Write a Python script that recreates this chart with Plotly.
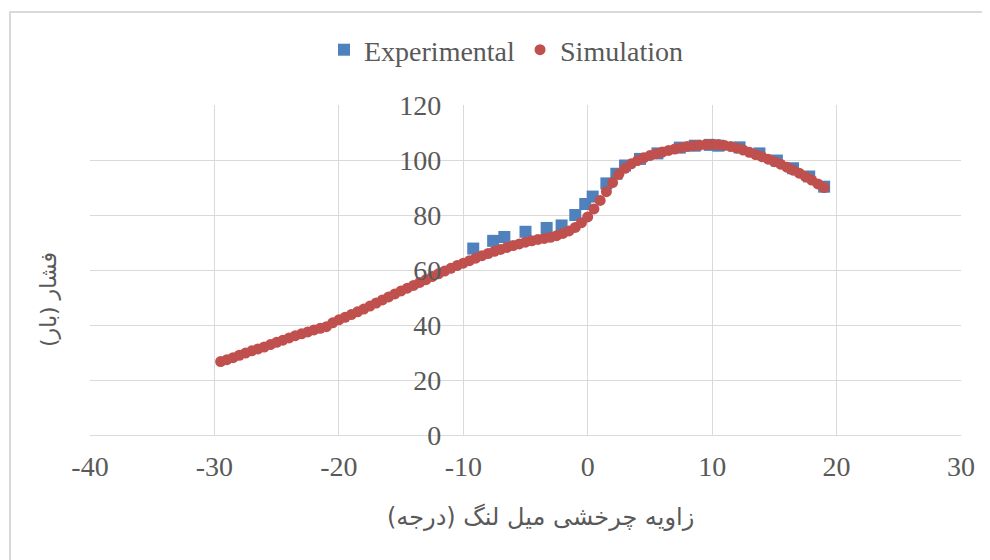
import plotly.graph_objects as go

# Experimental data (blue squares)
exp_angle = [-9.2, -7.6, -6.7, -5.0, -3.3, -2.1, -1.0, -0.2, 0.4, 1.5, 2.3, 3.0, 4.2,
             5.6, 7.4, 8.6, 9.8, 10.5, 12.2, 13.8, 15.2, 16.5, 17.8, 19.0]
exp_pressure = [67.8, 70.6, 72.0, 73.9, 75.3, 76.2, 80.0, 84.0, 86.7, 91.5, 95.0, 98.0, 100.4,
                102.4, 104.5, 105.2, 105.5, 105.2, 104.6, 102.4, 99.8, 97.0, 94.0, 90.3]

# Simulation data (red dots)
sim_angle = [-29.5, -29.0, -28.5, -28.0, -27.5, -27.0, -26.5, -26.0, -25.5, -25.0,
             -24.5, -24.0, -23.5, -23.0, -22.5, -22.0, -21.5, -21.0, -20.5, -20.0,
             -19.5, -19.0, -18.5, -18.0, -17.5, -17.0, -16.5, -16.0, -15.5, -15.0,
             -14.5, -14.0, -13.5, -13.0, -12.5, -12.0, -11.5, -11.0, -10.5, -10.0,
             -9.5, -9.0, -8.5, -8.0, -7.5, -7.0, -6.5, -6.0, -5.5, -5.0,
             -4.5, -4.0, -3.5, -3.0, -2.5, -2.0, -1.5, -1.0, -0.5, 0.0,
             0.5, 1.0, 1.5, 2.0, 2.5, 3.0, 3.5, 4.0, 4.5, 5.0,
             5.5, 6.0, 6.5, 7.0, 7.5, 8.0, 8.5, 9.0, 9.5, 10.0,
             10.5, 11.0, 11.5, 12.0, 12.5, 13.0, 13.5, 14.0, 14.5, 15.0,
             15.5, 16.0, 16.5, 17.0, 17.5, 18.0, 18.5, 19.0]
sim_pressure = [26.7, 27.4, 28.1, 29.0, 29.8, 30.6, 31.3, 32.0, 32.9, 33.7,
                34.5, 35.3, 36.1, 36.8, 37.5, 38.2, 38.8, 39.4, 40.8, 41.9,
                42.8, 43.8, 44.8, 45.8, 46.9, 48.0, 49.1, 50.2, 51.3, 52.4,
                53.4, 54.4, 55.5, 56.5, 57.6, 58.6, 59.6, 60.6, 61.6, 62.5,
                63.4, 64.3, 65.2, 66.0, 66.8, 67.5, 68.2, 68.9, 69.5, 70.1,
                70.6, 71.1, 71.5, 71.9, 72.5, 73.3, 74.2, 75.5, 77.2, 79.3,
                82.2, 85.3, 88.5, 91.8, 94.8, 97.0, 98.6, 99.8, 100.8, 101.6,
                102.3, 102.9, 103.5, 104.0, 104.5, 104.9, 105.2, 105.4, 105.6, 105.7,
                105.6, 105.3, 104.9, 104.3, 103.6, 102.8, 102.0, 101.2, 100.3, 99.4,
                98.5, 97.4, 96.3, 95.2, 94.0, 92.7, 91.3, 90.0]

x_ticks = [-40, -30, -20, -10, 0, 10, 20, 30]
y_ticks = [0, 20, 40, 60, 80, 100, 120]

x_title = "زاویه چرخشی میل لنگ (درجه)"
y_title = "فشار (بار)"

GRAY_TEXT = "#595959"
GRID = "#d9d9d9"
SERIF = "Liberation Serif"
ARAB = "DejaVu Sans"

fig = go.Figure()
fig.add_trace(go.Scatter(
    x=exp_angle, y=exp_pressure, mode="markers", name="Experimental",
    marker=dict(symbol="square", size=12, color="#4f81bd"),
))
fig.add_trace(go.Scatter(
    x=sim_angle, y=sim_pressure, mode="markers", name="Simulation",
    marker=dict(symbol="circle", size=11, color="#c0504d"),
))

OFF = 8  # page body offset
W, H = 990, 560
L, R, T, B = 90 - OFF, 29 + OFF, 105 - OFF, 125 + OFF
pw, ph = W - L - R, H - T - B

def px_to_paper_x(px):
    return (px - OFF - L) / pw

def px_to_paper_y(py):
    return (H - B - (py - OFF)) / ph

fig.update_layout(
    width=W, height=H,
    margin=dict(l=L, r=R, t=T, b=B),
    plot_bgcolor="white", paper_bgcolor="white",
    showlegend=True,
    legend=dict(orientation="h", x=px_to_paper_x(506), xanchor="center", y=px_to_paper_y(50),
                yanchor="middle", font=dict(family=SERIF, size=28, color=GRAY_TEXT),
                itemwidth=30, bgcolor="rgba(0,0,0,0)"),
    xaxis=dict(range=[-40, 30], tickvals=x_ticks, ticktext=[str(v) for v in x_ticks],
               showgrid=True, gridcolor=GRID, gridwidth=1, zeroline=False,
               showline=True, linecolor=GRID, linewidth=1,
               tickfont=dict(family=SERIF, size=28, color=GRAY_TEXT),
               ticks="", ticklabelstandoff=6),
    yaxis=dict(range=[0, 120], tickvals=y_ticks, ticktext=[str(v) for v in y_ticks],
               showgrid=True, gridcolor=GRID, gridwidth=1, zeroline=False,
               showline=False, anchor="free", position=30 / 70,
               tickfont=dict(family=SERIF, size=28, color=GRAY_TEXT),
               ticks="", ticklabelstandoff=22),
)

# x axis title
fig.add_annotation(text=x_title, xref="paper", yref="paper",
                   x=px_to_paper_x(540), y=px_to_paper_y(517), xanchor="center", yanchor="middle",
                   showarrow=False,
                   font=dict(family=ARAB, size=24, color=GRAY_TEXT))

# y axis title at the left edge of the chart
fig.add_annotation(text=y_title, textangle=-90, xref="paper", yref="paper",
                   x=px_to_paper_x(48), y=px_to_paper_y(300), xanchor="center", yanchor="middle",
                   showarrow=False,
                   font=dict(family=ARAB, size=22, color=GRAY_TEXT))

# chart-area border
fig.add_shape(type="rect", xref="paper", yref="paper",
              x0=px_to_paper_x(10), x1=px_to_paper_x(1010), y0=-1.0, y1=px_to_paper_y(12),
              line=dict(color="#d9d9d9", width=2), fillcolor="rgba(0,0,0,0)", layer="below")

fig.write_html("out.html")
